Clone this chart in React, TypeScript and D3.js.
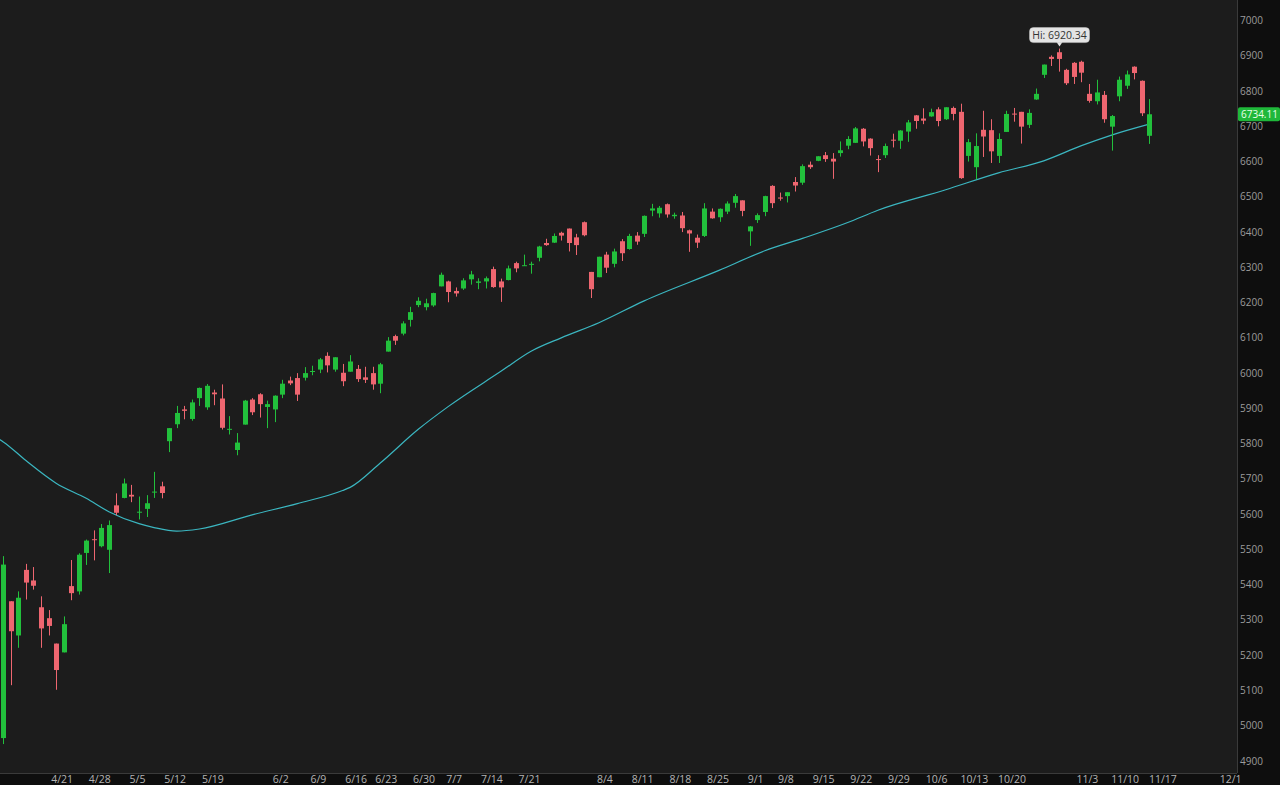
import React, { useEffect } from "react";
import * as d3 from "d3";

// ---- Data (S&P 500 daily candles) ----
const dates = [
  "4/9","4/10","4/11","4/14","4/15","4/16","4/17","4/21","4/22","4/23","4/24","4/25","4/28","4/29","4/30",
  "5/1","5/2","5/5","5/6","5/7","5/8","5/9","5/12","5/13","5/14","5/15","5/16","5/19","5/20","5/21","5/22","5/23","5/27","5/28","5/29","5/30",
  "6/2","6/3","6/4","6/5","6/6","6/9","6/10","6/11","6/12","6/13","6/16","6/17","6/18","6/20","6/23","6/24","6/25","6/26","6/27","6/30",
  "7/1","7/2","7/3","7/7","7/8","7/9","7/10","7/11","7/14","7/15","7/16","7/17","7/18","7/21","7/22","7/23","7/24","7/25","7/28","7/29","7/30","7/31",
  "8/1","8/4","8/5","8/6","8/7","8/8","8/11","8/12","8/13","8/14","8/15","8/18","8/19","8/20","8/21","8/22","8/25","8/26","8/27","8/28","8/29",
  "9/2","9/3","9/4","9/5","9/8","9/9","9/10","9/11","9/12","9/15","9/16","9/17","9/18","9/19","9/22","9/23","9/24","9/25","9/26","9/29","9/30",
  "10/1","10/2","10/3","10/6","10/7","10/8","10/9","10/10","10/13","10/14","10/15","10/16","10/17","10/20","10/21","10/22","10/23","10/24","10/27","10/28","10/29","10/30","10/31",
  "11/3","11/4","11/5","11/6","11/7","11/10","11/11","11/12","11/13","11/14"
];
const opens = [
  4965,5353,5256,5442,5412,5336,5305,5233,5208,5396,5381,5490,5529,5509,5499,
  5625,5646,5655,5606,5615,5663,5679,5807,5855,5897,5870,5929,5903,5945,5928,5841,5782,5854,5925,5940,5904,
  5897,5939,5979,5986,5987,6005,6010,6049,6010,6001,6004,6012,5988,6000,5970,6061,6105,6112,6151,6193,
  6187,6192,6246,6260,6233,6240,6266,6256,6260,6295,6260,6264,6312,6305,6307,6327,6369,6370,6398,6410,6385,6428,
  6287,6272,6336,6310,6374,6352,6390,6395,6461,6453,6479,6445,6447,6405,6384,6389,6458,6442,6458,6483,6490,
  6402,6434,6457,6531,6498,6502,6542,6540,6591,6602,6618,6608,6624,6645,6653,6693,6665,6607,6618,6662,6659,
  6685,6731,6722,6728,6748,6720,6752,6741,6616,6584,6690,6689,6616,6684,6736,6741,6704,6776,6846,6897,6910,6860,6880,
  6883,6792,6771,6789,6699,6785,6815,6869,6829,6673
];
const highs = [
  5481,5353,5381,5459,5450,5367,5328,5233,5310,5470,5489,5528,5554,5572,5582,
  5659,5701,5683,5650,5654,5720,5692,5844,5907,5907,5925,5959,5969,5953,5968,5878,5830,5924,5929,5943,5922,
  5937,5981,5990,6000,6017,6021,6043,6059,6045,6026,6051,6023,6018,6018,6029,6102,6109,6147,6188,6215,
  6211,6228,6285,6262,6243,6269,6290,6269,6274,6302,6268,6305,6316,6336,6316,6361,6381,6396,6401,6410,6395,6430,
  6287,6330,6344,6353,6380,6395,6400,6447,6480,6474,6481,6455,6457,6407,6393,6482,6467,6467,6487,6508,6490,
  6417,6453,6503,6533,6512,6513,6556,6592,6600,6615,6627,6624,6657,6672,6698,6695,6666,6618,6651,6679,6689,
  6718,6732,6751,6750,6754,6754,6756,6764,6664,6680,6744,6720,6680,6744,6752,6741,6748,6807,6875,6901,6920.34,6863,6882,
  6886,6820,6832,6800,6732,6841,6858,6870,6830,6777
];
const lows = [
  4948,5115,5221,5358,5386,5221,5256,5102,5208,5356,5372,5456,5469,5506,5433,
  5597,5645,5634,5585,5592,5646,5645,5776,5844,5869,5865,5907,5896,5909,5840,5826,5767,5854,5881,5874,5844,
  5861,5929,5966,5921,5979,5994,6000,6002,6004,5963,6004,5975,5972,5953,5943,6061,6080,6107,6132,6187,
  6178,6188,6246,6201,6217,6236,6251,6238,6240,6242,6202,6263,6286,6304,6282,6317,6361,6369,6376,6345,6335,6388,
  6213,6272,6284,6300,6318,6350,6364,6386,6445,6441,6441,6438,6400,6344,6355,6386,6438,6429,6451,6469,6445,
  6361,6426,6445,6468,6489,6484,6515,6534,6579,6601,6599,6551,6614,6635,6653,6643,6617,6570,6610,6640,6636,
  6656,6693,6706,6727,6700,6718,6717,6551,6600,6550,6613,6596,6596,6684,6713,6651,6695,6775,6837,6871,6855,6817,6820,
  6825,6767,6762,6710,6631,6771,6806,6833,6729,6650
];
const closes = [
  5457,5268,5363,5406,5397,5276,5283,5158,5288,5376,5485,5525,5528.75,5561,5569,
  5604,5687,5650,5607,5631,5664,5660,5844,5887,5893,5917,5958,5964,5940,5845,5842,5803,5922,5889,5912,5912,
  5936,5970,5971,5939,6000,6006,6039,6022,6045,5977,6033,5983,5981,5968,6025,6092,6092,6141,6173,6205,
  6198,6227,6279,6230,6226,6263,6280,6260,6269,6244,6243,6297,6297,6306,6310,6359,6363,6389,6390,6369,6363,6391,
  6238,6330,6299,6345,6340,6389,6373,6446,6467,6469,6450,6449,6411,6396,6370,6467,6439,6466,6481,6502,6460,
  6416,6448,6502,6482,6495,6513,6532,6587,6584,6615,6607,6600,6632,6664,6694,6657,6638,6605,6644,6661,6688,
  6711,6715,6716,6740,6715,6754,6735,6553,6655,6644,6671,6629,6664,6735,6735,6699,6738,6792,6875,6891,6891,6822,6840,
  6852,6772,6796,6720,6729,6832,6847,6851,6737,6734.11
];

// 50-day moving average, sampled at these dates
const maDates = ["4/8","4/9","4/14","4/21","4/25","4/30","5/6","5/8","5/13","5/16","5/28","6/5","6/13","6/16","6/23","6/30","7/7","7/16","7/22","7/28","8/4","8/12","8/26","9/4","9/11","9/19","9/25","10/8","10/17","10/27","11/3","11/7","11/14"];
const maValues = [5818,5805,5752,5688,5645,5607,5573,5562,5552,5558,5598,5630,5667,5676,5745,5840,5905,6005,6062,6100,6143,6205,6292,6347,6382,6427,6462,6520,6568,6602,6645,6675,6706];

// x-axis labels and the trading day each one marks
const tickLabels = ["4/21","4/28","5/5","5/12","5/19","6/2","6/9","6/16","6/23","6/30","7/7","7/14","7/21","8/4","8/11","8/18","8/25","9/1","9/8","9/15","9/22","9/29","10/6","10/13","10/20","11/3","11/10","11/17","12/1"];
const tickDates = ["4/21","4/28","5/5","5/12","5/19","6/2","6/9","6/16","6/23","6/30","7/7","7/14","7/21","8/4","8/11","8/18","8/25","9/2","9/8","9/15","9/22","9/29","10/6","10/13","10/20","11/3","11/10","11/17","12/1"];
const pastDates = ["4/8"];
const futureDates = ["11/17","11/18","11/19","11/20","11/21","11/24","11/25","11/26","11/28","12/1"];

const yTicks = [4900,5000,5100,5200,5300,5400,5500,5600,5700,5800,5900,6000,6100,6200,6300,6400,6500,6600,6700,6800,6900,7000];

const W = 1280, H = 785;
const PLOT_R = 1237, PLOT_B = 773;
const UP = "#22c03c", DOWN = "#ee6670", MA = "#3bb6c0";

export default function App() {
  useEffect(() => {
    document.body.style.margin = "0";
    document.body.style.background = "#1b1b1b";
  }, []);

  const allDates = pastDates.concat(dates, futureDates);
  const idxOf = (d: string) => allDates.indexOf(d) - pastDates.length;

  const x = d3.scaleLinear().domain([0, dates.length - 1]).range([3.3, 1149.3]);
  const y = d3.scaleLinear().domain([4900, 7000]).range([761, 20.5]);

  const maLine = d3.line<number>()
    .x((_, i) => x(idxOf(maDates[i])))
    .y((v) => y(v))
    .curve(d3.curveMonotoneX);

  const bodyW = 5;
  const font = "'Open Sans', 'Noto Sans', sans-serif";

  const hiIdx = highs.indexOf(d3.max(highs) as number);
  const hiVal = highs[hiIdx];
  const hx = Math.round(x(hiIdx)) + 0.5, hy = y(hiVal);
  const lastVal = closes[closes.length - 1];
  const boxW = 60, boxH = 15;

  return (
    <div style={{ position: "fixed", left: 0, top: 0, width: W, height: H }}>
      <svg width={W} height={H} style={{ display: "block" }}>
        <defs>
          <clipPath id="plotClip">
            <rect x={0} y={0} width={PLOT_R} height={PLOT_B} />
          </clipPath>
        </defs>
        <rect x={0} y={0} width={W} height={H} fill="#0e0e0e" />
        <rect x={0} y={0} width={PLOT_R} height={PLOT_B} fill="#1c1c1c" />
        <line x1={PLOT_R + 0.5} x2={PLOT_R + 0.5} y1={0} y2={PLOT_B} stroke="#3a3a3a" />
        <line x1={0} x2={PLOT_R} y1={PLOT_B + 0.5} y2={PLOT_B + 0.5} stroke="#3a3a3a" />

        <g clipPath="url(#plotClip)">
          <path d={maLine(maValues) || ""} fill="none" stroke={MA} strokeWidth={1.2} />
        </g>

        <g>
          {dates.map((d, i) => {
            const o = opens[i], c = closes[i];
            const up = c > o;
            const col = up ? UP : DOWN;
            const cx = Math.round(x(i)) + 0.5;
            const top = y(Math.max(o, c)), bot = y(Math.min(o, c));
            return (
              <g key={d}>
                <line x1={cx} x2={cx} y1={y(highs[i])} y2={y(lows[i])} stroke={col} strokeWidth={1} />
                <rect x={cx - bodyW / 2} y={top} width={bodyW} height={Math.max(1, bot - top)} fill={col} />
              </g>
            );
          })}
        </g>

        {/* high callout */}
        <g>
          <path d={`M${hx - 3},${hy - 6.5} L${hx},${hy - 2} L${hx + 3},${hy - 6.5} Z`} fill="#e4e4e4" />
          <rect x={hx - boxW / 2} y={hy - 6 - boxH} width={boxW} height={boxH} rx={4} fill="#e4e4e4" stroke="#c4c4c4" strokeWidth={0.5} />
          <text x={hx} y={hy - 6 - boxH / 2 + 3.7} textAnchor="middle" fontFamily={font} fontSize={10.5} fill="#333">
            {`Hi: ${hiVal.toFixed(2)}`}
          </text>
        </g>

        {/* right axis */}
        <g fontFamily={font} fontSize={10} fill="#9c9c9c">
          {yTicks.map((t) => (
            <text key={t} x={1240} y={y(t) + 3.5}>{t}</text>
          ))}
        </g>
        <g>
          <rect x={1238} y={y(lastVal) - 7} width={42} height={14} rx={2} fill="#1fb83a" />
          <text x={1241} y={y(lastVal) + 3.5} fontFamily={font} fontSize={10} fill="#e9ffe9">{lastVal.toFixed(2)}</text>
        </g>

        {/* bottom axis */}
        <g fontFamily={font} fontSize={10.5} fill="#b4b4b4">
          {tickLabels.map((t, i) => (
            <text key={t} x={x(idxOf(tickDates[i])) + 6} y={783} textAnchor="middle">{t}</text>
          ))}
        </g>
      </svg>
    </div>
  );
}
